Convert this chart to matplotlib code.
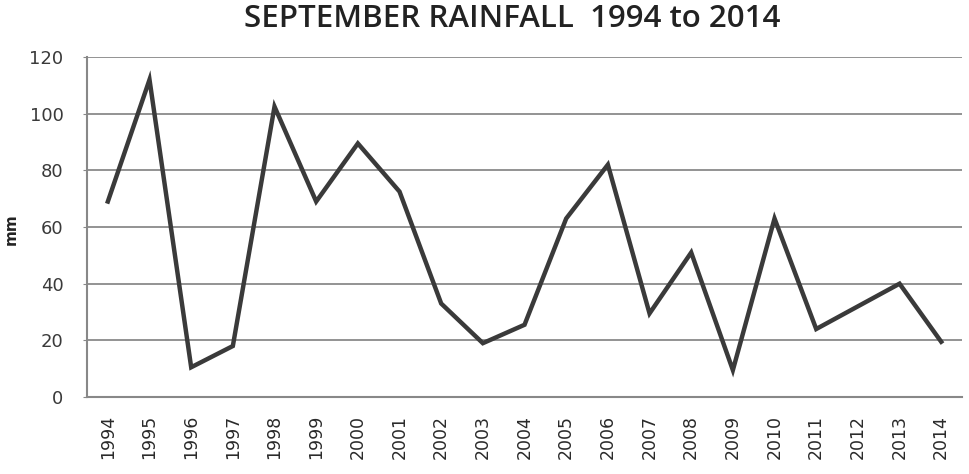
import matplotlib
matplotlib.use("Agg")
import matplotlib.pyplot as plt

years = [str(y) for y in range(1994, 2015)]
rainfall = [69, 112, 10.5, 18, 102.5, 69, 89.5, 72.5, 33, 19, 25.5,
            63, 82, 29.5, 51, 9.5, 63, 24, 32, 40, 19.5]
y_ticks = [0, 20, 40, 60, 80, 100, 120]

fig = plt.figure(figsize=(9.7, 4.74), dpi=100)
ax = fig.add_axes([0.0897, 0.1624, 0.9021, 0.7173])

x = list(range(len(years)))
ax.plot(x, rainfall, color="#3a3a3a", linewidth=3.2, solid_joinstyle="miter", zorder=3)

ax.set_xlim(-0.5, len(years) - 0.5)
ax.set_ylim(0, 120)
ax.set_yticks(y_ticks)
ax.set_yticklabels([str(v) for v in y_ticks], fontsize=13, color="#3a3a3a", family="DejaVu Sans")
ax.set_xticks(x)
ax.set_xticklabels(years, rotation=90, fontsize=12.5, color="#2a2a2a", family="DejaVu Sans")
ax.tick_params(axis="y", length=3, color="#888888", pad=14)
ax.tick_params(axis="x", length=0, pad=13)

ax.yaxis.grid(True, color="#8a8a8a", linewidth=1.3)
ax.set_axisbelow(True)
for s in ["top", "right"]:
    ax.spines[s].set_visible(False)
ax.spines["left"].set_color("#888888")
ax.spines["left"].set_linewidth(1.5)
ax.spines["bottom"].set_color("#888888")
ax.spines["bottom"].set_linewidth(1.5)

fig.text(11 / 970, 1 - 229 / 474, "mm", rotation=90, ha="center", va="center",
         fontsize=11, fontweight="bold", color="#222222", family="DejaVu Sans")

fig.text(512 / 970, 1 - 19 / 474, "SEPTEMBER RAINFALL  1994 to 2014", ha="center", va="center",
         fontsize=22.5, fontweight="semibold", color="#222222", family="Open Sans")

fig.savefig("out.png", dpi=100, facecolor="white")
